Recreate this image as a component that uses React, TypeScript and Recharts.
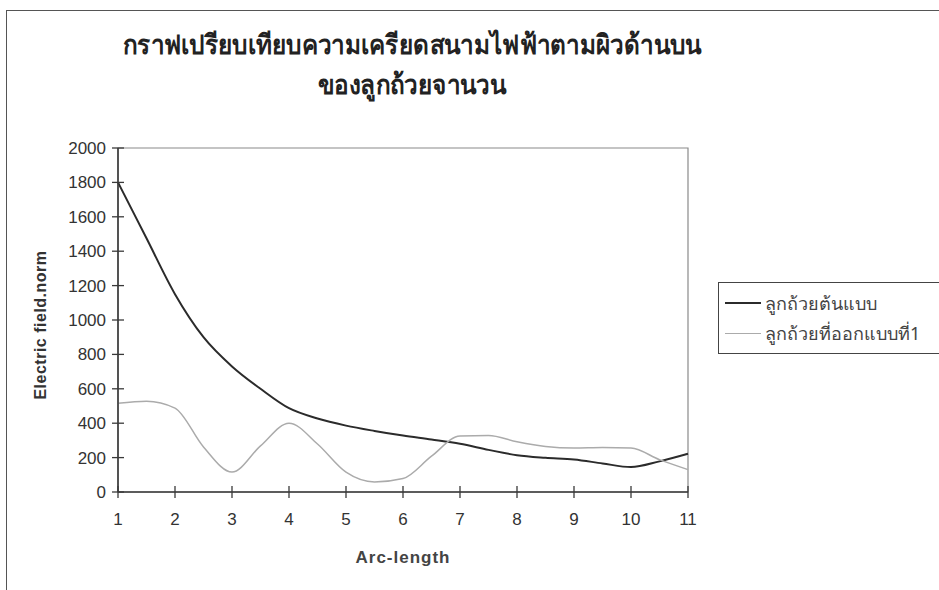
import React from "react";
import { LineChart, Line, XAxis, YAxis, Legend, ReferenceArea } from "recharts";

// arc-length positions (half steps)
const arcLength = [1, 1.5, 2, 2.5, 3, 3.5, 4, 4.5, 5, 5.5, 6, 6.5, 7, 7.5, 8, 8.5, 9, 9.5, 10, 10.5, 11];
const prototype = [1800, 1475, 1150, 900, 730, 600, 487, 427, 386, 355, 328, 305, 280, 245, 214, 199, 189, 166, 145, 178, 222];
const design1 = [516, 528, 488, 262, 116, 268, 400, 279, 115, 58, 78, 208, 326, 328, 292, 265, 256, 259, 256, 188, 130];

const xTicks = [1, 2, 3, 4, 5, 6, 7, 8, 9, 10, 11];
const yTicks = [0, 200, 400, 600, 800, 1000, 1200, 1400, 1600, 1800, 2000];

const seriesNames = ["ลูกถ้วยต้นแบบ", "ลูกถ้วยที่ออกแบบที่1"];
const titleLines = ["กราฟเปรียบเทียบความเครียดสนามไฟฟ้าตามผิวด้านบน", "ของลูกถ้วยจานวน"];

const data = arcLength.map((x, i) => ({ x, proto: prototype[i], d1: design1[i] }));

const AXIS = "#3a3a3a";
const NUM_FONT = "'Liberation Sans', Arial, sans-serif";
const TICK_SIZE = 6;

const YTick = (props: any) => {
  const { x, y, payload } = props;
  const axisX = x + 6 + TICK_SIZE;
  return (
    <g>
      <line x1={axisX - 6} x2={axisX + 6} y1={y} y2={y} stroke={AXIS} strokeWidth={1.3} />
      <text x={x} y={y} dy={6} textAnchor="end" fontSize={17} fontFamily={NUM_FONT} fill="#333">
        {payload.value}
      </text>
    </g>
  );
};

const XTick = (props: any) => {
  const { x, y, payload } = props;
  const axisY = y - 13 - TICK_SIZE;
  return (
    <g>
      <line x1={x} x2={x} y1={axisY - 6} y2={axisY + 6} stroke={AXIS} strokeWidth={1.3} />
      <text x={x} y={y} dy={14} textAnchor="middle" fontSize={17} fontFamily={NUM_FONT} fill="#333">
        {payload.value}
      </text>
    </g>
  );
};

const LegendBox = (props: any) => {
  const { payload } = props;
  return (
    <div style={{ border: "1.3px solid #444", padding: "5px 0 5px 6px", background: "#fff" }}>
      {payload.map((p: any) => (
        <div key={p.value} style={{ display: "flex", alignItems: "center", height: 30 }}>
          <div style={{ width: 36, height: 0, borderTop: `${p.payload.strokeWidth}px solid ${p.color}` }} />
          <span style={{ marginLeft: 4, fontSize: 18, color: "#444", fontFamily: "'Noto Sans', sans-serif" }}>{p.value}</span>
        </div>
      ))}
    </div>
  );
};

export default function App() {
  return (
    <div style={{ position: "absolute", left: 0, top: 0, width: 939, height: 590, background: "#fff", overflow: "hidden" }}>
      <div style={{ position: "absolute", left: 6, top: 10, width: 960, height: 600, border: "1.5px solid #555" }} />
      <div
        style={{
          position: "absolute",
          left: 62,
          top: 24,
          width: 700,
          textAlign: "center",
          fontFamily: "'Noto Sans', sans-serif",
          fontWeight: "bold",
          fontSize: 27,
          lineHeight: "40px",
          color: "#222",
          transform: "scaleX(0.9)",
        }}
      >
        {titleLines.map((t) => (
          <div key={t}>{t}</div>
        ))}
      </div>
      <div
        style={{
          position: "absolute",
          left: 41,
          top: 325,
          transform: "translate(-50%, -50%) rotate(-90deg)",
          whiteSpace: "nowrap",
          fontFamily: "'Liberation Sans', Arial, sans-serif",
          fontWeight: "bold",
          fontSize: 16,
          letterSpacing: 0.5,
          color: "#333",
        }}
      >
        Electric field.norm
      </div>
      <div
        style={{
          position: "absolute",
          left: 403,
          top: 558,
          transform: "translate(-50%, -50%)",
          whiteSpace: "nowrap",
          fontFamily: NUM_FONT,
          fontWeight: "bold",
          fontSize: 17,
          letterSpacing: 1,
          color: "#444",
        }}
      >
        Arc-length
      </div>
      <div style={{ position: "absolute", left: 0, top: 0 }}>
        <LineChart width={939} height={590} data={data} margin={{ top: 148, right: 251, bottom: 68, left: 58 }}>
          <ReferenceArea x1={1} x2={11} y1={0} y2={2000} fill="none" stroke="#8a8a8a" strokeWidth={1.2} />
          <XAxis
            dataKey="x"
            type="number"
            domain={[1, 11]}
            ticks={xTicks}
            height={30}
            tickSize={TICK_SIZE}
            tickMargin={13}
            tickLine={false}
            tick={<XTick />}
            axisLine={{ stroke: AXIS, strokeWidth: 1.6 }}
          />
          <YAxis
            type="number"
            domain={[0, 2000]}
            ticks={yTicks}
            width={60}
            tickSize={TICK_SIZE}
            tickMargin={6}
            tickLine={false}
            tick={<YTick />}
            axisLine={{ stroke: AXIS, strokeWidth: 1.6 }}
          />
          <Legend
            layout="vertical"
            align="center"
            verticalAlign="middle"
            wrapperStyle={{ left: 718, top: 282, width: 240 }}
            content={<LegendBox />}
          />
          <Line
            type="monotone"
            dataKey="proto"
            name={seriesNames[0]}
            stroke="#2b2b2b"
            strokeWidth={2}
            dot={false}
            isAnimationActive={false}
          />
          <Line
            type="monotone"
            dataKey="d1"
            name={seriesNames[1]}
            stroke="#ababab"
            strokeWidth={1.5}
            dot={false}
            isAnimationActive={false}
          />
        </LineChart>
      </div>
    </div>
  );
}
